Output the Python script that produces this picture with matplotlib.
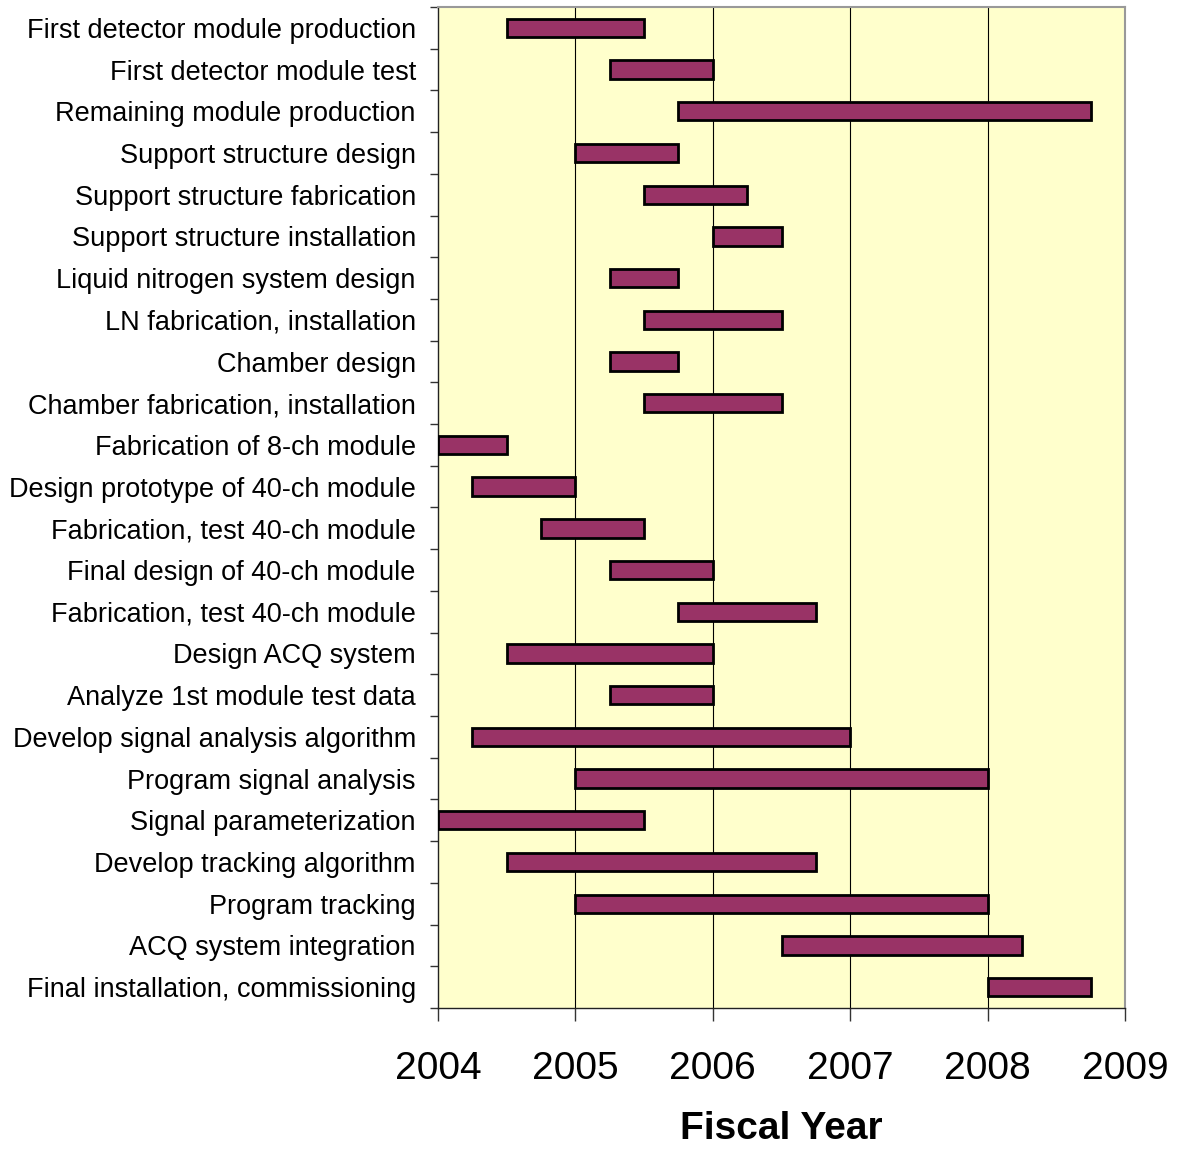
import matplotlib.pyplot as plt
import numpy as np

plt.rcParams['font.family'] = ['Liberation Sans', 'DejaVu Sans']

# tasks, top to bottom, with start / end in fiscal years
tasks = ["First detector module production", "First detector module test",
         "Remaining module production", "Support structure design",
         "Support structure fabrication", "Support structure installation",
         "Liquid nitrogen system design", "LN fabrication, installation",
         "Chamber design", "Chamber fabrication, installation",
         "Fabrication of 8-ch module", "Design prototype of 40-ch module",
         "Fabrication, test 40-ch module", "Final design of 40-ch module",
         "Fabrication, test 40-ch module", "Design ACQ system",
         "Analyze 1st module test data", "Develop signal analysis algorithm",
         "Program signal analysis", "Signal parameterization",
         "Develop tracking algorithm", "Program tracking",
         "ACQ system integration", "Final installation, commissioning"]
start = [2004.5, 2005.25, 2005.75, 2005.0, 2005.5, 2006.0, 2005.25, 2005.5,
         2005.25, 2005.5, 2004.0, 2004.25, 2004.75, 2005.25, 2005.75, 2004.5,
         2005.25, 2004.25, 2005.0, 2004.0, 2004.5, 2005.0, 2006.5, 2008.0]
end = [2005.5, 2006.0, 2008.75, 2005.75, 2006.25, 2006.5, 2005.75, 2006.5,
       2005.75, 2006.5, 2004.5, 2005.0, 2005.5, 2006.0, 2006.75, 2006.0,
       2006.0, 2007.0, 2008.0, 2005.5, 2006.75, 2008.0, 2008.25, 2008.75]
years = [2004, 2005, 2006, 2007, 2008, 2009]

n = len(tasks)
ypos = np.arange(n)
width = np.array(end) - np.array(start)

fig = plt.figure(figsize=(11.81, 11.53), dpi=100)
ax = fig.add_axes([0.3709, 0.1258, 0.5817, 0.8681])
ax.set_facecolor('#FFFFCC')

for x in years[1:-1]:
    ax.axvline(x, color='black', lw=0.8, zorder=1)

ax.barh(ypos, width, left=start, height=0.44, color='#993366',
        edgecolor='black', linewidth=2, zorder=3)

ax.set_xlim(2004, 2009)
ax.set_ylim(n - 0.5, -0.5)
ax.set_xticks(years)
ax.set_xticklabels([str(y) for y in years], fontsize=28)
ax.tick_params(axis='x', length=9, width=1, pad=22, color='#333333')

ax.set_yticks(ypos)
ax.set_yticklabels(tasks, fontsize=19.5)
ax.tick_params(axis='y', length=0, pad=16)
ax.set_yticks(np.arange(n + 1) - 0.5, minor=True)
ax.tick_params(axis='y', which='minor', length=6, width=1, color='#333333')

for s in ['top', 'right']:
    ax.spines[s].set_color('#999999')
    ax.spines[s].set_linewidth(1.5)
for s in ['left', 'bottom']:
    ax.spines[s].set_color('#222222')
    ax.spines[s].set_linewidth(1)

ax.set_xlabel("Fiscal Year", fontsize=28, fontweight='bold', labelpad=17)

plt.savefig("out.png", dpi=100)
